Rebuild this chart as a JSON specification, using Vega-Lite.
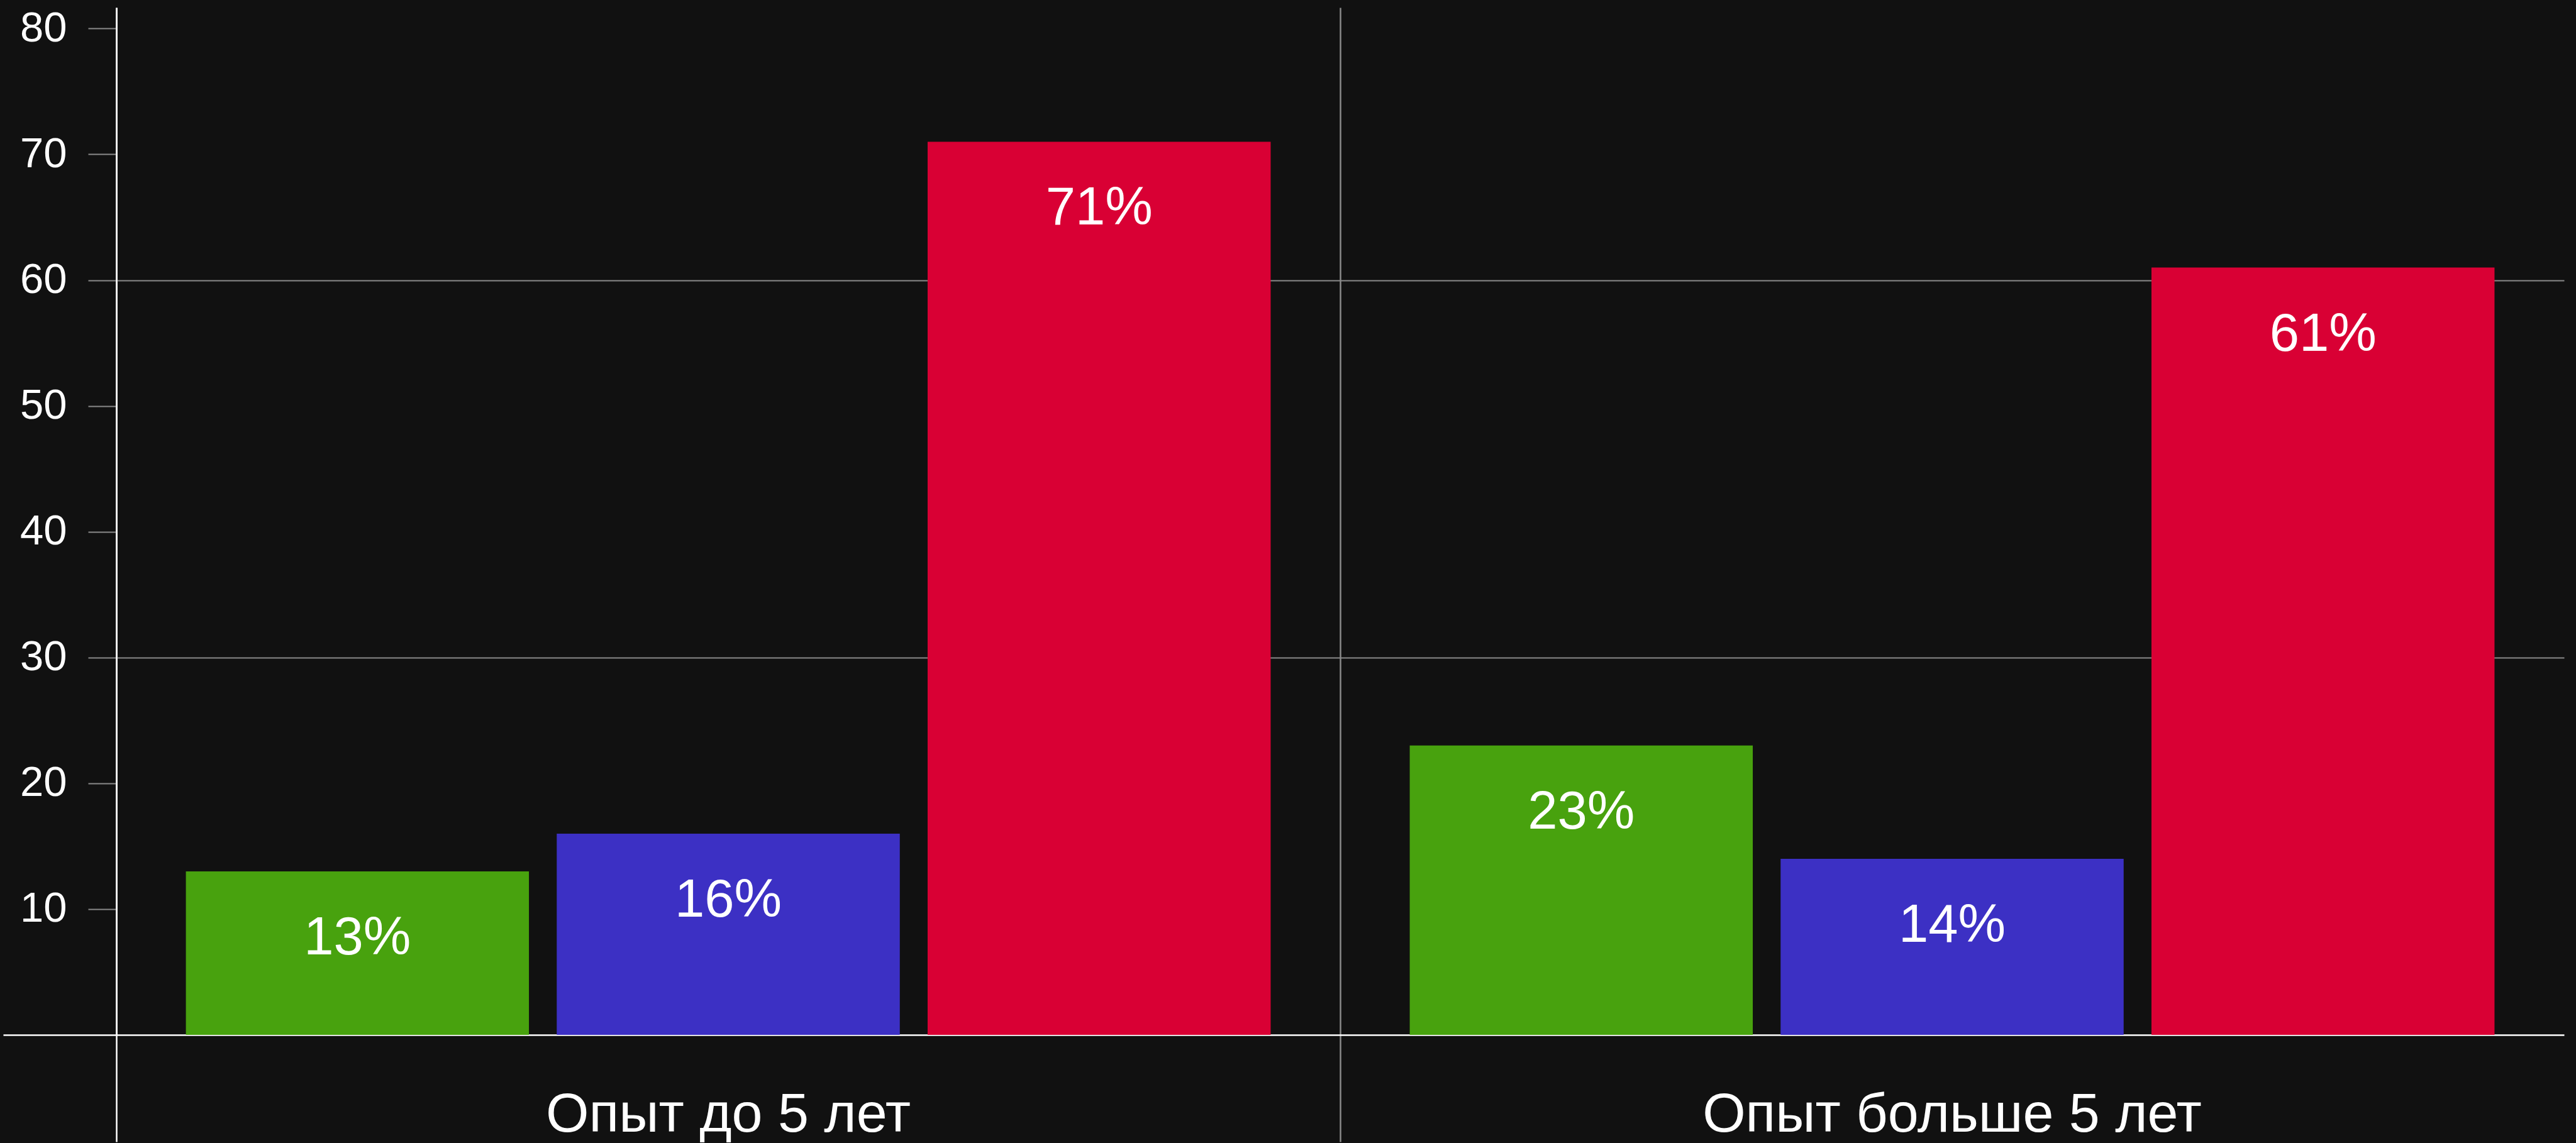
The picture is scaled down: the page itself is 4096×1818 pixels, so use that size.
{
  "$schema": "https://vega.github.io/schema/vega-lite/v6.json",
  "autosize": {"type": "none"},
  "padding": {"left": 185, "top": 12, "right": 19, "bottom": 172},
  "width": 3892,
  "height": 1634,
  "background": "#111111",
  "config": {
    "view": {"stroke": null},
    "font": "Liberation Sans"
  },
  "data": {
    "values": [
      {"group": "Опыт до 5 лет", "series": "Серия 1", "value": 13, "label": "13%"},
      {"group": "Опыт до 5 лет", "series": "Серия 2", "value": 16, "label": "16%"},
      {"group": "Опыт до 5 лет", "series": "Серия 3", "value": 71, "label": "71%"},
      {"group": "Опыт больше 5 лет", "series": "Серия 1", "value": 23, "label": "23%"},
      {"group": "Опыт больше 5 лет", "series": "Серия 2", "value": 14, "label": "14%"},
      {"group": "Опыт больше 5 лет", "series": "Серия 3", "value": 61, "label": "61%"}
    ]
  },
  "encoding": {
    "x": {
      "field": "group",
      "type": "nominal",
      "sort": ["Опыт до 5 лет", "Опыт больше 5 лет"],
      "scale": {"paddingInner": 0, "paddingOuter": 0},
      "axis": {
        "title": null,
        "orient": "bottom",
        "bandPosition": 0,
        "labelAngle": 0,
        "labelLimit": 0,
        "labelFont": "Liberation Sans",
        "labelFontSize": 88,
        "labelColor": "#ffffff",
        "labelBaseline": "alphabetic",
        "labelPadding": -17,
        "domain": true,
        "domainColor": "#ffffff",
        "domainWidth": 2.5,
        "ticks": true,
        "tickSize": 170,
        "tickWidth": 2.5,
        "tickColor": {"condition": {"test": "datum.value === 'Опыт до 5 лет'", "value": "#ffffff"}, "value": "#8a8a8a"},
        "grid": true,
        "gridWidth": 2.5,
        "gridColor": {"condition": {"test": "datum.value === 'Опыт до 5 лет'", "value": "#ffffff"}, "value": "#8a8a8a"}
      }
    },
    "xOffset": {
      "field": "series",
      "type": "nominal",
      "scale": {"paddingInner": 0.075, "paddingOuter": 0.1875}
    },
    "y": {
      "field": "value",
      "type": "quantitative",
      "scale": {"domain": [0, 81.67], "nice": false, "zero": true},
      "axis": {
        "title": null,
        "values": [0, 10, 20, 30, 40, 50, 60, 70, 80],
        "labelExpr": "datum.value === 0 ? '' : datum.label",
        "labelFont": "Liberation Sans",
        "labelFontSize": 67,
        "labelColor": "#ffffff",
        "labelPadding": 34,
        "domain": true,
        "domainColor": "#ffffff",
        "domainWidth": 2.5,
        "tickSize": {"condition": {"test": "datum.value === 0", "value": 180}, "value": 45},
        "tickWidth": {"condition": {"test": "datum.value === 0", "value": 2.5}, "value": 2},
        "tickColor": {"condition": {"test": "datum.value === 0", "value": "#ffffff"}, "value": "#8a8a8a"},
        "grid": true,
        "gridColor": "#8a8a8a",
        "gridWidth": 2,
        "gridOpacity": {"condition": {"test": "datum.value === 30 || datum.value === 60", "value": 1}, "value": 0}
      }
    }
  },
  "layer": [
    {
      "mark": {"type": "bar"},
      "encoding": {
        "color": {
          "field": "series",
          "type": "nominal",
          "scale": {"domain": ["Серия 1", "Серия 2", "Серия 3"], "range": ["#48A20E", "#3C30C4", "#D90034"]},
          "legend": null
        }
      }
    },
    {
      "mark": {"type": "text", "color": "#ffffff", "fontSize": 85, "font": "Liberation Sans", "align": "center", "baseline": "alphabetic", "dy": 132},
      "encoding": {
        "text": {"field": "label", "type": "nominal"}
      }
    }
  ]
}
